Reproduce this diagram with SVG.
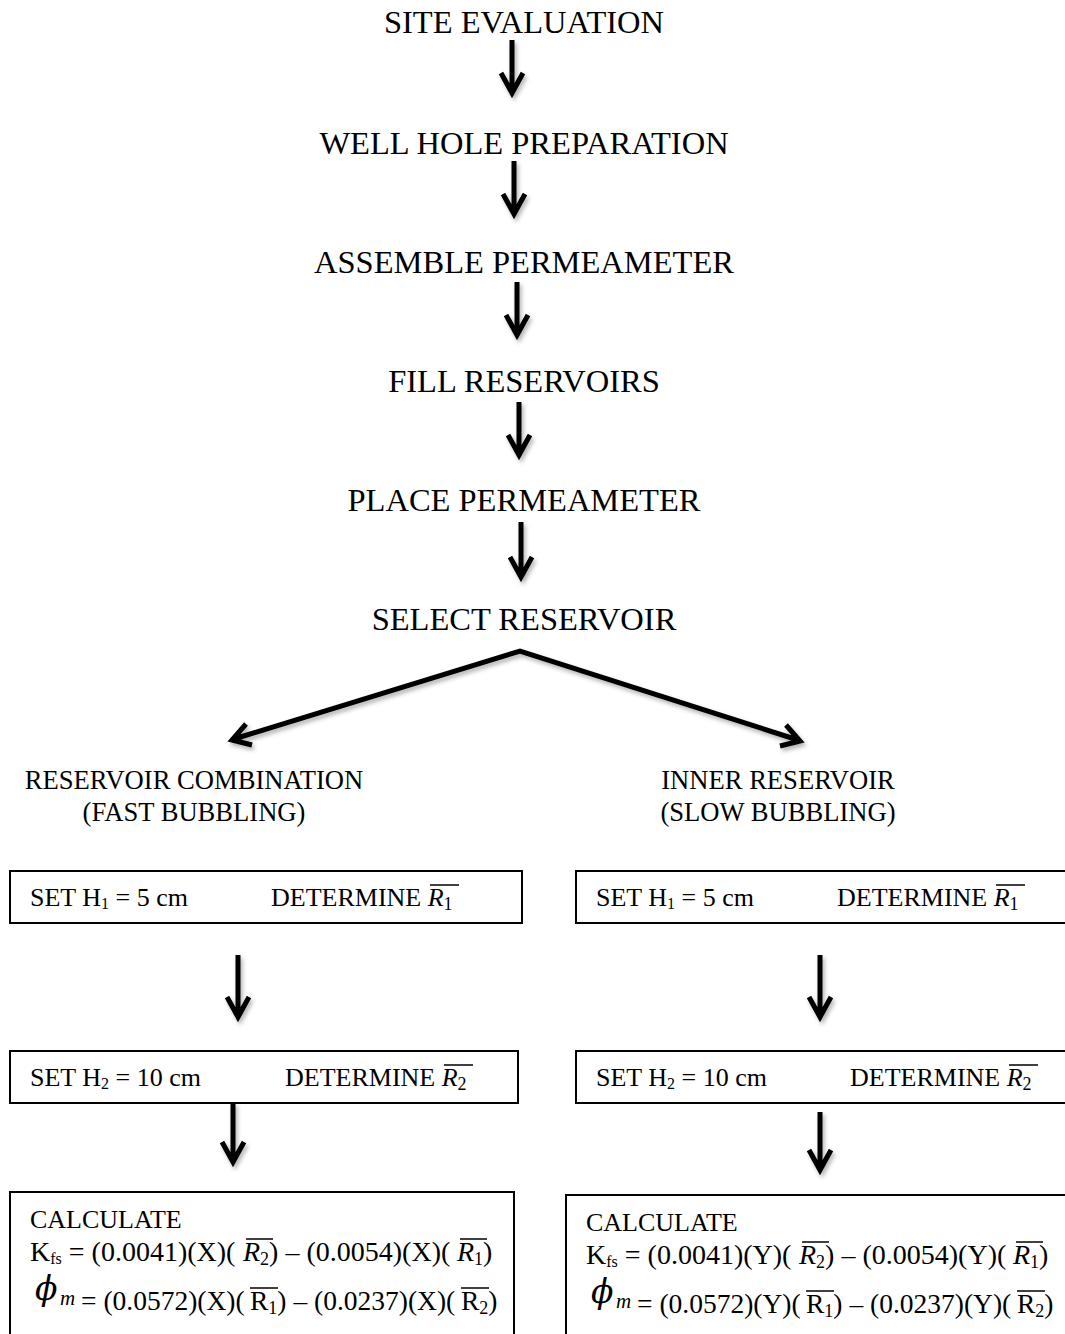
<svg xmlns="http://www.w3.org/2000/svg" width="1065" height="1334" viewBox="0 0 1065 1334">
<style>
.t{font-family:"Liberation Serif","Times New Roman",serif;fill:#000}
.h{font-size:32.5px;text-anchor:middle}
.m{font-size:26.6px;text-anchor:middle}
.s{font-size:26px}
.f{font-size:28px}
.g{font-size:27.5px}
.sub{font-size:18px}
.i{font-style:italic}
.box{fill:#fff;stroke:#000;stroke-width:2}
.arr{fill:none;stroke:#000;stroke-width:5;stroke-linejoin:miter;stroke-linecap:butt}
.ov{stroke:#000;stroke-width:1.5}
</style>
<defs>
<filter id="sh" x="-50%" y="-50%" width="200%" height="200%">
<feDropShadow dx="2" dy="3" stdDeviation="2" flood-color="#000" flood-opacity="0.3"/>
</filter>
</defs>
<rect width="1065" height="1334" fill="#fff"/>

<g id="connectors" filter="url(#sh)">
<path class="arr" d="M512,40 V91 M501,73 L512,93 L523,73"/>
<path class="arr" d="M514,161 V212 M503,194 L514,214 L525,194"/>
<path class="arr" d="M517,282 V333 M506,315 L517,335 L528,315"/>
<path class="arr" d="M519,402 V453 M508,435 L519,455 L530,435"/>
<path class="arr" d="M521,522 V575 M510,557 L521,577 L532,557"/>
<path class="arr" d="M234,739 L520,651 L798,740 M246,724 L232,740 L252,745 M786,725 L800,741 L780,746"/>
<path class="arr" d="M238,955 V1015 M227,997 L238,1017 L249,997"/>
<path class="arr" d="M820,955 V1015 M809,997 L820,1017 L831,997"/>
<path class="arr" d="M233,1103 V1160 M222,1142 L233,1162 L244,1142"/>
<path class="arr" d="M820,1112 V1168 M809,1150 L820,1170 L831,1150"/>
</g>

<g id="n1"><text class="t h" x="524" y="33">SITE EVALUATION</text></g>
<g id="n2"><text class="t h" x="524" y="154">WELL HOLE PREPARATION</text></g>
<g id="n3"><text class="t h" x="524" y="273">ASSEMBLE PERMEAMETER</text></g>
<g id="n4"><text class="t h" x="524" y="392">FILL RESERVOIRS</text></g>
<g id="n5"><text class="t h" x="524" y="511">PLACE PERMEAMETER</text></g>
<g id="n6"><text class="t h" x="524" y="630">SELECT RESERVOIR</text></g>

<g id="n7">
<text class="t m" x="194" y="789">RESERVOIR COMBINATION</text>
<text class="t m" x="194" y="821">(FAST BUBBLING)</text>
</g>
<g id="n8">
<text class="t m" x="778" y="789">INNER RESERVOIR</text>
<text class="t m" x="778" y="821">(SLOW BUBBLING)</text>
</g>

<g id="n9">
<rect class="box" x="10" y="871" width="512" height="52"/>
<text class="t s" x="30" y="906">SET H<tspan font-size="16" dy="3">1</tspan><tspan dy="-3"> = 5 cm</tspan></text>
<text class="t s" x="271" y="906">DETERMINE <tspan class="i">R</tspan><tspan class="sub" dy="4">1</tspan></text>
<line class="ov" x1="430" y1="885" x2="459" y2="885"/>
</g>
<g id="n10">
<rect class="box" x="576" y="871" width="500" height="52"/>
<text class="t s" x="596" y="906">SET H<tspan font-size="16" dy="3">1</tspan><tspan dy="-3"> = 5 cm</tspan></text>
<text class="t s" x="837" y="906">DETERMINE <tspan class="i">R</tspan><tspan class="sub" dy="4">1</tspan></text>
<line class="ov" x1="996" y1="885" x2="1025" y2="885"/>
</g>

<g id="n11">
<rect class="box" x="10" y="1051" width="508" height="52"/>
<text class="t s" x="30" y="1086">SET H<tspan font-size="16" dy="3">2</tspan><tspan dy="-3"> = 10 cm</tspan></text>
<text class="t s" x="285" y="1086">DETERMINE <tspan class="i">R</tspan><tspan class="sub" dy="4">2</tspan></text>
<line class="ov" x1="444" y1="1065" x2="473" y2="1065"/>
</g>
<g id="n12">
<rect class="box" x="576" y="1051" width="500" height="52"/>
<text class="t s" x="596" y="1086">SET H<tspan font-size="16" dy="3">2</tspan><tspan dy="-3"> = 10 cm</tspan></text>
<text class="t s" x="850" y="1086">DETERMINE <tspan class="i">R</tspan><tspan class="sub" dy="4">2</tspan></text>
<line class="ov" x1="1009" y1="1065" x2="1038" y2="1065"/>
</g>

<g id="n13">
<rect class="box" x="10" y="1192" width="504" height="160"/>
<text class="t s" x="30" y="1228">CALCULATE</text>
<text class="t f" x="30" y="1261">K<tspan font-size="16" dy="3">fs</tspan><tspan dy="-3"> = (0.0041)(X)( </tspan><tspan class="i" x="243">R</tspan><tspan class="sub" dy="4">2</tspan><tspan dy="-4">) – (0.0054)(X)( </tspan><tspan class="i" x="457">R</tspan><tspan class="sub" dy="4">1</tspan><tspan dy="-4">)</tspan></text>
<line class="ov" x1="246" y1="1239" x2="273" y2="1239"/>
<line class="ov" x1="460" y1="1239" x2="487" y2="1239"/>
<text x="35" y="1300" font-family="'DejaVu Serif',serif" font-style="italic" font-size="33">ϕ</text>
<text x="60" y="1305" font-family="'Liberation Serif',serif" font-style="italic" font-size="21">m</text>
<text class="t g" x="81" y="1310">= (0.0572)(X)( <tspan x="250">R</tspan><tspan class="sub" dy="4">1</tspan><tspan dy="-4">) – (0.0237)(X)( </tspan><tspan x="461">R</tspan><tspan class="sub" dy="4">2</tspan><tspan dy="-4">)</tspan></text>
<line class="ov" x1="250" y1="1288" x2="278" y2="1288"/>
<line class="ov" x1="461" y1="1288" x2="489" y2="1288"/>
</g>

<g id="n14">
<rect class="box" x="566" y="1195" width="510" height="160"/>
<text class="t s" x="586" y="1231">CALCULATE</text>
<text class="t f" x="586" y="1264">K<tspan font-size="16" dy="3">fs</tspan><tspan dy="-3"> = (0.0041)(Y)( </tspan><tspan class="i" x="799">R</tspan><tspan class="sub" dy="4">2</tspan><tspan dy="-4">) – (0.0054)(Y)( </tspan><tspan class="i" x="1013">R</tspan><tspan class="sub" dy="4">1</tspan><tspan dy="-4">)</tspan></text>
<line class="ov" x1="802" y1="1242" x2="829" y2="1242"/>
<line class="ov" x1="1016" y1="1242" x2="1043" y2="1242"/>
<text x="591" y="1303" font-family="'DejaVu Serif',serif" font-style="italic" font-size="33">ϕ</text>
<text x="616" y="1308" font-family="'Liberation Serif',serif" font-style="italic" font-size="21">m</text>
<text class="t g" x="637" y="1313">= (0.0572)(Y)( <tspan x="806">R</tspan><tspan class="sub" dy="4">1</tspan><tspan dy="-4">) – (0.0237)(Y)( </tspan><tspan x="1017">R</tspan><tspan class="sub" dy="4">2</tspan><tspan dy="-4">)</tspan></text>
<line class="ov" x1="806" y1="1291" x2="834" y2="1291"/>
<line class="ov" x1="1017" y1="1291" x2="1045" y2="1291"/>
</g>
</svg>
